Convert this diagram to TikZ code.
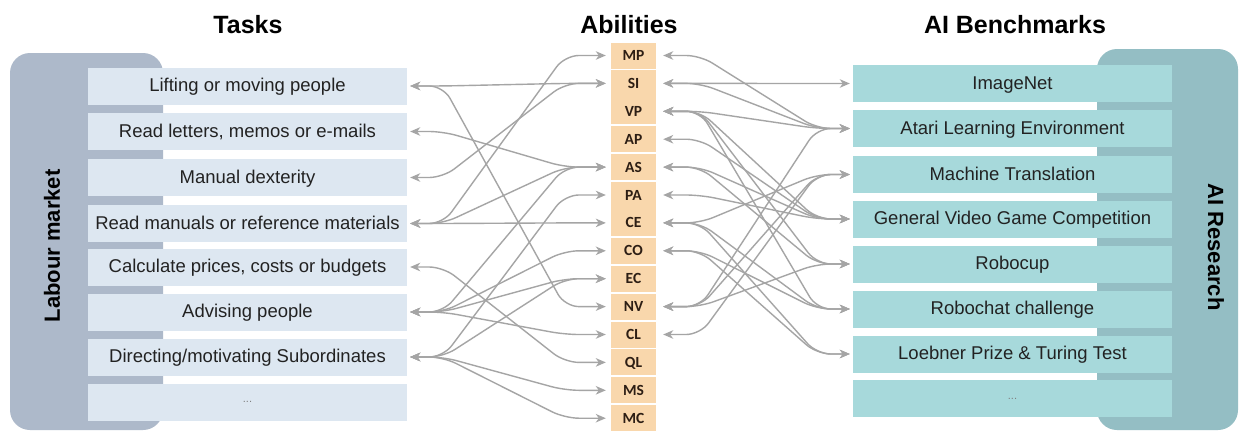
\documentclass[tikz,border=0pt]{standalone}
\usepackage{fontspec}
\setmainfont{Liberation Sans}
\newfontfamily\abfont{Carlito}
\usetikzlibrary{arrows.meta}
\definecolor{lbg}{RGB}{173,185,202}
\definecolor{taskc}{RGB}{221,231,241}
\definecolor{abc}{RGB}{249,215,172}
\definecolor{benc}{RGB}{167,217,219}
\definecolor{rbg}{RGB}{148,190,196}
\definecolor{linec}{RGB}{165,165,165}
\definecolor{txt}{RGB}{34,34,34}
\tikzset{
  taskbox/.style={fill=taskc, minimum width=319pt, minimum height=37pt, inner sep=0pt, text height=13pt, text depth=2pt, font=\fontsize{18.5}{20}\selectfont, text=txt},
  benchbox/.style={fill=benc, minimum width=319pt, minimum height=37pt, inner sep=0pt, text height=13pt, text depth=2pt, font=\fontsize{18.5}{20}\selectfont, text=txt},
  ablabel/.style={inner sep=0pt, minimum width=45pt, minimum height=26pt, text height=10pt, text depth=0pt, font=\abfont\bfseries\fontsize{15.5}{17}\selectfont, text={rgb,255:red,45;green,30;blue,20}},
  title/.style={font=\bfseries\fontsize{25}{28}\selectfont, text=black},
  sidelabel/.style={font=\bfseries\fontsize{22}{24}\selectfont, text=black},
  conn/.style={draw=linec, line width=1.4pt, rounded corners=14pt, {Stealth[length=10pt,width=8.5pt,inset=3pt]}-{Stealth[length=10pt,width=8.5pt,inset=3pt]}},
  lconn/.style={conn, shorten <=3pt, shorten >=5pt},
  rconn/.style={conn, shorten <=7pt, shorten >=3pt},
  dots/.style={font=\fontsize{11}{12}\selectfont, text=gray}
}
\begin{document}
\begin{tikzpicture}[x=1pt,y=-1pt]
\useasboundingbox (0,0) rectangle (1239,431);
\fill[white] (0,0) rectangle (1239,431);
% titles
\node[title] (ttasks) at (248,25) {Tasks};
\node[title] (tabil) at (629,25) {Abilities};
\node[title] (tbench) at (1015,25) {AI Benchmarks};
% backgrounds
\fill[lbg, rounded corners=20pt] (10,53) rectangle (163,430);
\fill[rbg, rounded corners=20pt] (1097,49) rectangle (1238,430);
\node[sidelabel, rotate=90] (lab) at (52,246) {Labour market};
\node[sidelabel, rotate=-90] (air) at (1216,247) {AI Research};
% tasks
\node[taskbox] (t1) at (247.5,86) {Lifting or moving people};
\node[taskbox] (t2) at (247.5,131.5) {Read letters, memos or e-mails};
\node[taskbox] (t3) at (247.5,177.5) {Manual dexterity};
\node[taskbox] (t4) at (247.5,223.5) {Read manuals or reference materials};
\node[taskbox] (t5) at (247.5,267) {Calculate prices, costs or budgets};
\node[taskbox] (t6) at (247.5,312) {Advising people};
\node[taskbox] (t7) at (247.5,357) {Directing/motivating Subordinates};
\node[taskbox] (t8) at (247.5,402) {};
\node[dots] (t8d) at (t8) {...};
% benchmarks
\node[benchbox] (b1) at (1012.5,83.5) {ImageNet};
\node[benchbox] (b2) at (1012.5,128.5) {Atari Learning Environment};
\node[benchbox] (b3) at (1012.5,174.5) {Machine Translation};
\node[benchbox] (b4) at (1012.5,219) {General Video Game Competition};
\node[benchbox] (b5) at (1012.5,264) {Robocup};
\node[benchbox] (b6) at (1012.5,309) {Robochat challenge};
\node[benchbox] (b7) at (1012.5,354) {Loebner Prize \& Turing Test};
\node[benchbox] (b8) at (1012.5,398.5) {};
\node[dots] (b8d) at (b8) {...};
% ability boxes
\foreach \a/\b in {0/0,1/2,3/3,4/4,5/6,7/7,8/8,9/9,10/10,11/11,12/12,13/13}{
  \fill[abc] (611,{55.5+27.9*\a-13}) rectangle (656,{55.5+27.9*\b+13});
}
\foreach \i/\t in {0/MP,1/SI,2/VP,3/AP,4/AS,5/PA,6/CE,7/CO,8/EC,9/NV,10/CL,11/QL,12/MS,13/MC}{
  \node[ablabel] (\t) at (633.5,{55.5+27.9*\i}) {\t};
}
% left connectors
\foreach \s/\d in {t1/SI,t1/NV,t2/AS,t3/SI,t4/MP,t4/AS,t4/CE,t5/QL,t6/AS,t6/CO,t6/EC,t6/CL,t7/PA,t7/EC,t7/MS,t7/MC}{
  \draw[lconn] (\s.east) -- ([xshift=36pt]\s.east) -- ([xshift=-46pt]\d.west) -- (\d.west);
}
% right connectors
\foreach \s/\d in {MP/b2,SI/b1,SI/b2,VP/b2,VP/b4,VP/b5,VP/b6,AP/b4,AS/b4,AS/b5,PA/b4,CE/b3,CE/b6,CE/b7,CO/b6,CO/b7,NV/b2,NV/b3,NV/b5,CL/b3}{
  \draw[rconn] (\s.east) -- ([xshift=44pt]\s.east) -- ([xshift=-36pt]\d.west) -- (\d.west);
}
\end{tikzpicture}
\end{document}
